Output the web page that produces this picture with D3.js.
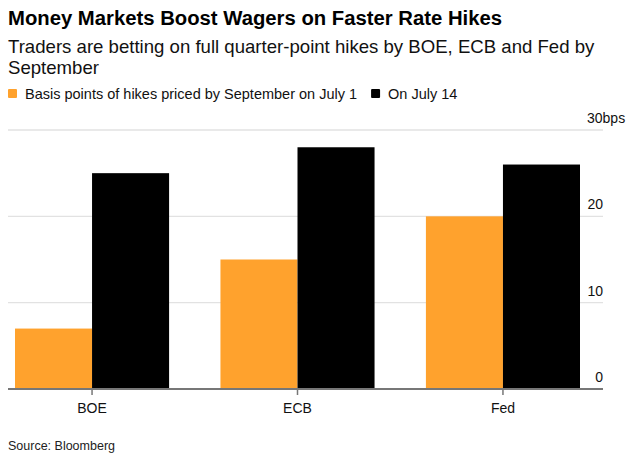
<!DOCTYPE html>
<html>
<head>
<meta charset="utf-8">
<script src="https://cdn.jsdelivr.net/npm/d3@7"></script>
<style>
  body { margin: 0; background: #fff; }
  svg { display: block; font-family: "Liberation Sans", Arial, sans-serif; }
</style>
</head>
<body>
<svg id="chart" width="635" height="457"></svg>
<script>
// Data
const banks = ["BOE", "ECB", "Fed"];
const july1 = [7, 15, 20];
const july14 = [25, 28, 26];
const seriesNames = ["Basis points of hikes priced by September on July 1", "On July 14"];
const seriesColors = ["#ffa22d", "#000000"];
const yTicks = [0, 10, 20, 30];

const svg = d3.select("#chart");
const margin = {top: 130, left: 8, right: 32, bottom: 68};
const width = 635, height = 457;
const plotRight = width - margin.right;
const baseY = height - margin.bottom;

// Titles
svg.append("text").attr("x", 8).attr("y", 25)
    .attr("font-size", 20.3).attr("font-weight", "bold").attr("fill", "#000")
    .text("Money Markets Boost Wagers on Faster Rate Hikes");
const sub = svg.append("text").attr("x", 8).attr("y", 53).attr("font-size", 18.6).attr("fill", "#111");
sub.append("tspan").attr("x", 8).text("Traders are betting on full quarter-point hikes by BOE, ECB and Fed by");
sub.append("tspan").attr("x", 8).attr("dy", 21).text("September");

// Legend
const legend = svg.append("g").attr("transform", "translate(8,89)");
let lx = 0;
seriesNames.forEach((name, i) => {
    legend.append("rect").attr("x", lx).attr("y", 0).attr("width", 9).attr("height", 9)
        .attr("rx", 1).attr("fill", seriesColors[i]);
    const t = legend.append("text").attr("x", lx + 17).attr("y", 9.5).attr("font-size", 14.5)
        .attr("fill", "#111").text(name);
    lx += 17 + t.node().getComputedTextLength() + 14;
});

// Scales
const x0 = d3.scaleBand().domain(banks).range([15, 580]).paddingInner(0.25).paddingOuter(0);
const x1 = d3.scaleBand().domain([0, 1]).range([0, x0.bandwidth()]);
const y = d3.scaleLinear().domain([0, 30]).range([baseY, margin.top]);

// Gridlines and y labels
const grid = svg.append("g");
yTicks.forEach(v => {
    if (v > 0) {
        grid.append("line").attr("x1", margin.left).attr("x2", plotRight)
            .attr("y1", y(v)).attr("y2", y(v)).attr("stroke", "#e2e2e2").attr("stroke-width", 1.3);
    }
    const lab = svg.append("text").attr("y", y(v) - 7).attr("font-size", 14).attr("fill", "#111");
    if (v === 30) {
        lab.attr("x", plotRight - 16).text(v + "bps");
    } else {
        lab.attr("x", plotRight).attr("text-anchor", "end").text(v);
    }
});

// Bars
const groups = svg.append("g").selectAll("g").data(banks).join("g")
    .attr("transform", d => `translate(${x0(d)},0)`);
groups.selectAll("rect")
    .data((d, i) => [july1[i], july14[i]])
    .join("rect")
    .attr("x", (d, j) => x1(j))
    .attr("width", x1.bandwidth())
    .attr("y", d => y(d))
    .attr("height", d => baseY - y(d))
    .attr("fill", (d, j) => seriesColors[j]);

// Baseline axis
const xAxis = svg.append("g").attr("transform", `translate(0,${baseY})`);
xAxis.append("line").attr("x1", margin.left).attr("x2", plotRight)
    .attr("stroke", "#777").attr("stroke-width", 2);
banks.forEach(b => {
    const cx = x0(b) + x0.bandwidth() / 2;
    xAxis.append("line").attr("x1", cx).attr("x2", cx).attr("y1", 0).attr("y2", 6)
        .attr("stroke", "#777").attr("stroke-width", 1.5);
    xAxis.append("text").attr("x", cx).attr("y", 24).attr("text-anchor", "middle")
        .attr("font-size", 14).attr("fill", "#111").text(b);
});

// Source
svg.append("text").attr("x", 8).attr("y", 450).attr("font-size", 12.5).attr("fill", "#222")
    .text("Source: Bloomberg");
</script>
</body>
</html>
